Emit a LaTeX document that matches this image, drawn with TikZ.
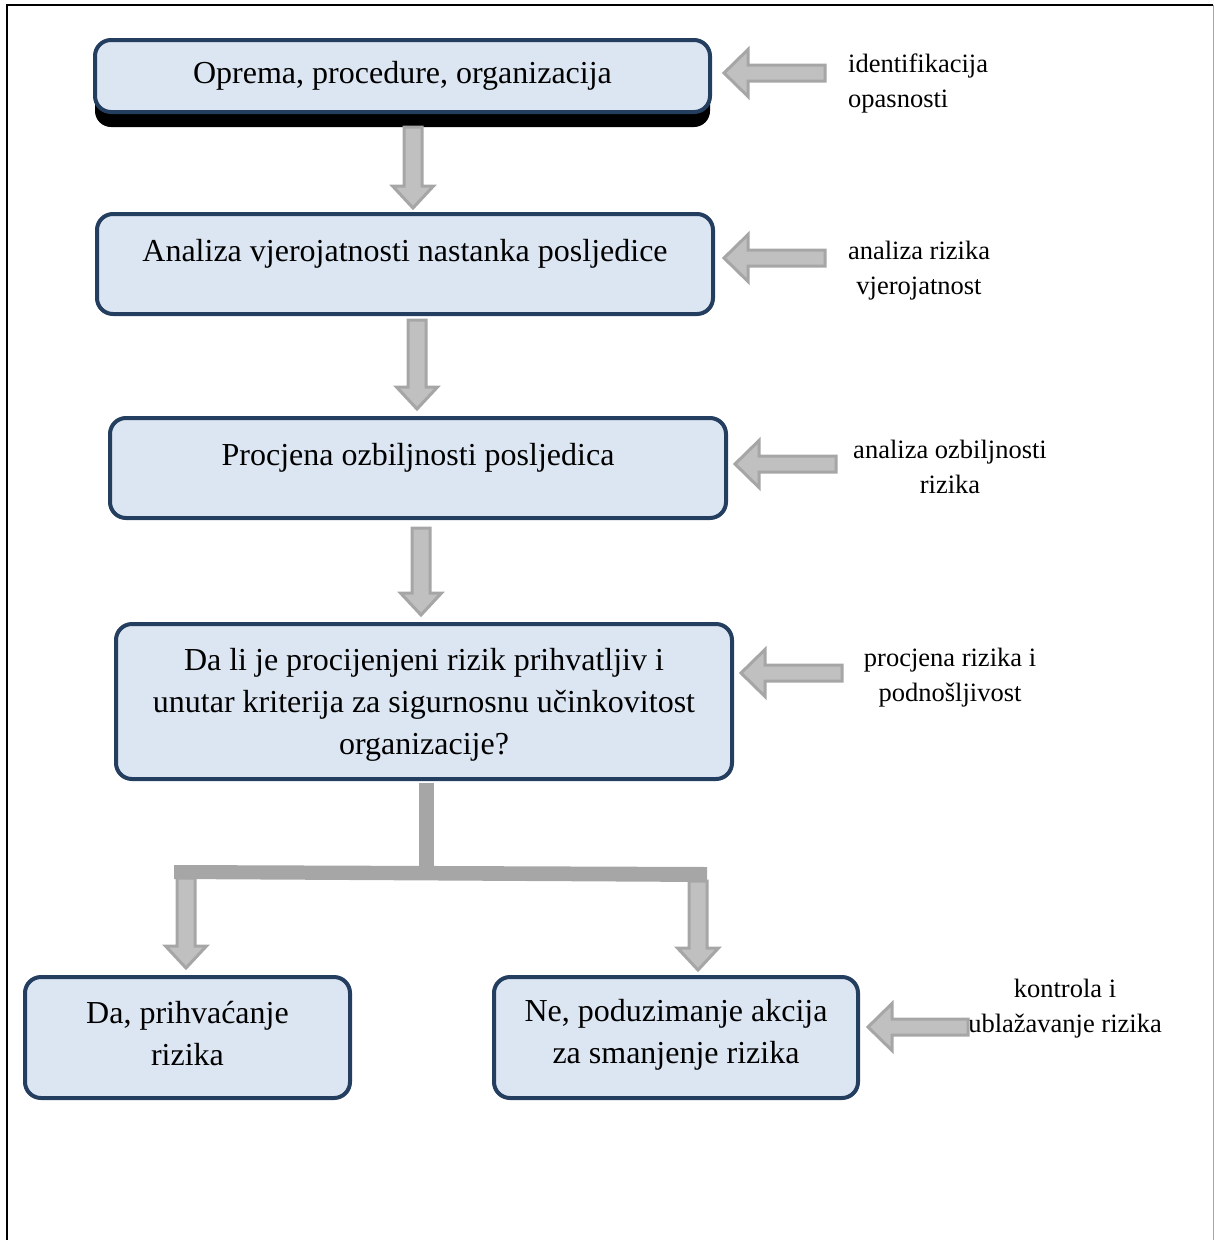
\documentclass[tikz,border=0pt]{standalone}
\usepackage{fontspec}
\setmainfont{Liberation Serif}
\usetikzlibrary{calc,shadows}
\definecolor{boxfill}{RGB}{220,230,242}
\definecolor{boxline}{RGB}{36,62,96}
\definecolor{arrfill}{RGB}{192,192,192}
\definecolor{arrline}{RGB}{166,166,166}
\tikzset{
 box/.style={draw=boxline, fill=boxfill, line width=4pt, rounded corners=16pt, align=center, inner sep=0pt, font=\fontsize{32}{42}\selectfont},
 lowtext/.style={text height=24pt, text depth=30pt},
 side/.style={align=center, inner sep=0pt, font=\fontsize{26.5}{35}\selectfont},
 blkarr/.style={draw=arrline, fill=arrfill, line width=3pt, line join=miter},
 bar/.style={fill=arrline},
 frame/.style={line width=2.5pt, draw=black}
}
\newcommand\liftline[2]{\raisebox{#1}[\height][\depth]{#2}}
\newcommand\blkdn[2]{\path[blkarr] let \p1=(#1), \p2=(#2) in (\x1-9pt,\y1) -- (\x1-9pt,\y2+22pt) -- (\x1-20.5pt,\y2+22pt) -- (\x1,\y2) -- (\x1+20.5pt,\y2+22pt) -- (\x1+9pt,\y2+22pt) -- (\x1+9pt,\y1) -- cycle;}
\newcommand\blklt[2]{\path[blkarr] let \p1=(#1), \p2=(#2) in (\x1,\y1-8pt) -- (\x2+24pt,\y1-8pt) -- (\x2+24pt,\y1-23.5pt) -- (\x2,\y1) -- (\x2+24pt,\y1+23.5pt) -- (\x2+24pt,\y1+8pt) -- (\x1,\y1+8pt) -- cycle;}
\begin{document}
\begin{tikzpicture}[x=1pt,y=-1pt]
\useasboundingbox (0,0) rectangle (1214,1240);
% frame
\draw[frame] (7,1241) -- (7,5) -- (1213,5);
\draw[arrline, line width=1pt] (1213,5) -- (1213,1241);
% boxes
\node[box, minimum width=615pt, minimum height=72pt,
      general shadow={fill=black, shadow xshift=0pt, shadow yshift=-15pt}]
  (b1) at (402.5,76) {Oprema, procedure, organizacija};
\node[box, lowtext, minimum width=616pt, minimum height=100pt] (b2) at (405,264) {Analiza vjerojatnosti nastanka posljedice};
\node[box, lowtext, minimum width=616pt, minimum height=100pt] (b3) at (418,468) {Procjena ozbiljnosti posljedica};
\node[box, minimum width=616pt, minimum height=155pt] (b4) at (424,701.5) {\liftline{-3pt}{Da li je procijenjeni rizik prihvatljiv i}\\\liftline{-3pt}{unutar kriterija za sigurnosnu učinkovitost}\\\liftline{-3pt}{organizacije?}};
\node[box, minimum width=325pt, minimum height=121pt] (b5) at (187.5,1037.5) {\liftline{4pt}{Da, prihvaćanje}\\\liftline{4pt}{rizika}};
\node[box, minimum width=364pt, minimum height=121pt] (b6) at (676,1037.5) {\liftline{3pt}{Ne, poduzimanje akcija}\\\liftline{3pt}{za smanjenje rizika}};
% side labels
\node[side, align=left, anchor=west] (l1) at (848,83.5) {identifikacija\\opasnosti};
\node[side] (l2) at (919,271) {analiza rizika\\vjerojatnost};
\node[side] (l3) at (950,466.5) {analiza ozbiljnosti\\rizika};
\node[side] (l4) at (950,677.5) {procjena rizika i\\podnošljivost};
\node[side] (l5) at (1065,1008.5) {kontrola i\\ublažavanje rizika};
% down arrows between boxes
\coordinate (d1s) at (413,127); \coordinate (d1e) at (413,208);
\coordinate (d2s) at (417,320); \coordinate (d2e) at (417,409);
\coordinate (d3s) at (421,528); \coordinate (d3e) at (421,615);
\blkdn{d1s}{d1e}
\blkdn{d2s}{d2e}
\blkdn{d3s}{d3e}
% side arrows
\coordinate (s1s) at (825,73);   \coordinate (s1e) at (724,73);
\coordinate (s2s) at (825,258);  \coordinate (s2e) at (724,258);
\coordinate (s3s) at (836,464);  \coordinate (s3e) at (735,464);
\coordinate (s4s) at (842,673);  \coordinate (s4e) at (741,673);
\coordinate (s5s) at (968,1027); \coordinate (s5e) at (868,1027);
\blklt{s1s}{s1e}
\blklt{s2s}{s2e}
\blklt{s3s}{s3e}
\blklt{s4s}{s4e}
\blklt{s5s}{s5e}
% branching connector
\coordinate (stem) at (426.5,783);
\fill[bar] (419,783) rectangle (434,872);
\fill[bar] (174,865) -- (707,867) -- (707,882) -- (174,879) -- cycle;
\coordinate (bl) at (186,878); \coordinate (ble) at (186,968);
\coordinate (br) at (698,881); \coordinate (bre) at (698,970);
\blkdn{bl}{ble}
\blkdn{br}{bre}
\end{tikzpicture}
\end{document}
